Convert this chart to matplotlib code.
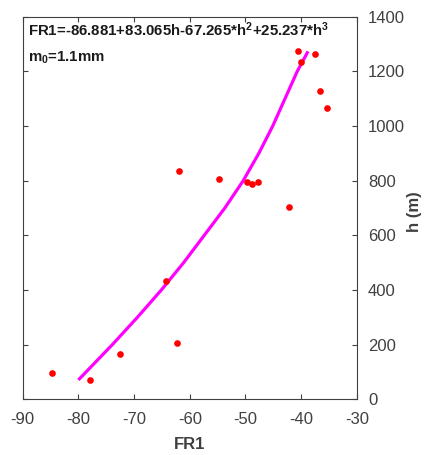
import matplotlib.pyplot as plt

plt.rcParams['font.family'] = ['Liberation Sans', 'DejaVu Sans']
plt.rcParams['axes.unicode_minus'] = False
plt.rcParams['mathtext.fontset'] = 'custom'
plt.rcParams['mathtext.rm'] = 'Liberation Sans'
plt.rcParams['mathtext.bf'] = 'Liberation Sans:bold'
plt.rcParams['mathtext.default'] = 'bf'

# Measured points (FR1, h in m)
fr1_obs = [-84.8, -78.0, -72.5, -62.3, -64.3, -62.0, -54.8, -49.7, -48.8, -47.8,
           -42.2, -40.6, -40.0, -37.6, -36.7, -35.3]
h_obs = [95, 70, 165, 205, 433, 835, 807, 795, 789, 795,
         705, 1275, 1233, 1263, 1129, 1065]

# Fitted curve
h_fit = [75, 200, 300, 400, 500, 600, 700, 800, 900, 1000, 1100, 1200, 1268]
fr1_fit = [-79.8, -73.9, -69.4, -65.1, -61.1, -57.4, -53.7, -50.4, -47.6,
           -45.1, -42.9, -40.7, -38.9]

x_ticks = [-90, -80, -70, -60, -50, -40, -30]
y_ticks = [0, 200, 400, 600, 800, 1000, 1200, 1400]

grey = '#404040'

fig = plt.figure(figsize=(4.32, 4.55), dpi=100)
ax = fig.add_axes([0.0525, 0.1224, 0.7735, 0.8409])

ax.plot(fr1_fit, h_fit, color=(1, 0, 1), linewidth=2.3, zorder=2)
ax.plot(fr1_obs, h_obs, 'o', color='red', markersize=4.8, markeredgewidth=0, zorder=3)

ax.set_xlim(-90, -30)
ax.set_ylim(0, 1400)
ax.set_xticks(x_ticks)
ax.set_yticks(y_ticks)
ax.yaxis.tick_right()
ax.tick_params(direction='in', length=3.5, width=0.8, colors=grey, labelsize=12,
               top=True, bottom=True, left=True, right=True)
ax.tick_params(axis='x', pad=9)
ax.tick_params(axis='y', labelleft=False, labelright=True, pad=8)
for s in ax.spines.values():
    s.set_color(grey)
    s.set_linewidth(0.8)

ax.set_xlabel('FR1', fontsize=12, fontweight='bold', color=grey, labelpad=7)
fig.text(415 / 432, 1 - 212 / 455, 'h (m)', rotation=90, fontsize=12,
         fontweight='bold', color=grey, ha='center', va='center')

ax.text(0.015, 0.99, r'FR1=-86.881+83.065h-67.265*h$^{2}$+25.237*h$^{3}$',
        transform=ax.transAxes, fontsize=10.8, fontweight='bold', color='#1a1a1a',
        ha='left', va='top')
ax.text(0.015, 0.915, r'm$_{0}$=1.1mm',
        transform=ax.transAxes, fontsize=10.8, fontweight='bold', color='#1a1a1a',
        ha='left', va='top')

fig.savefig('out.png', dpi=100)
plt.close()
